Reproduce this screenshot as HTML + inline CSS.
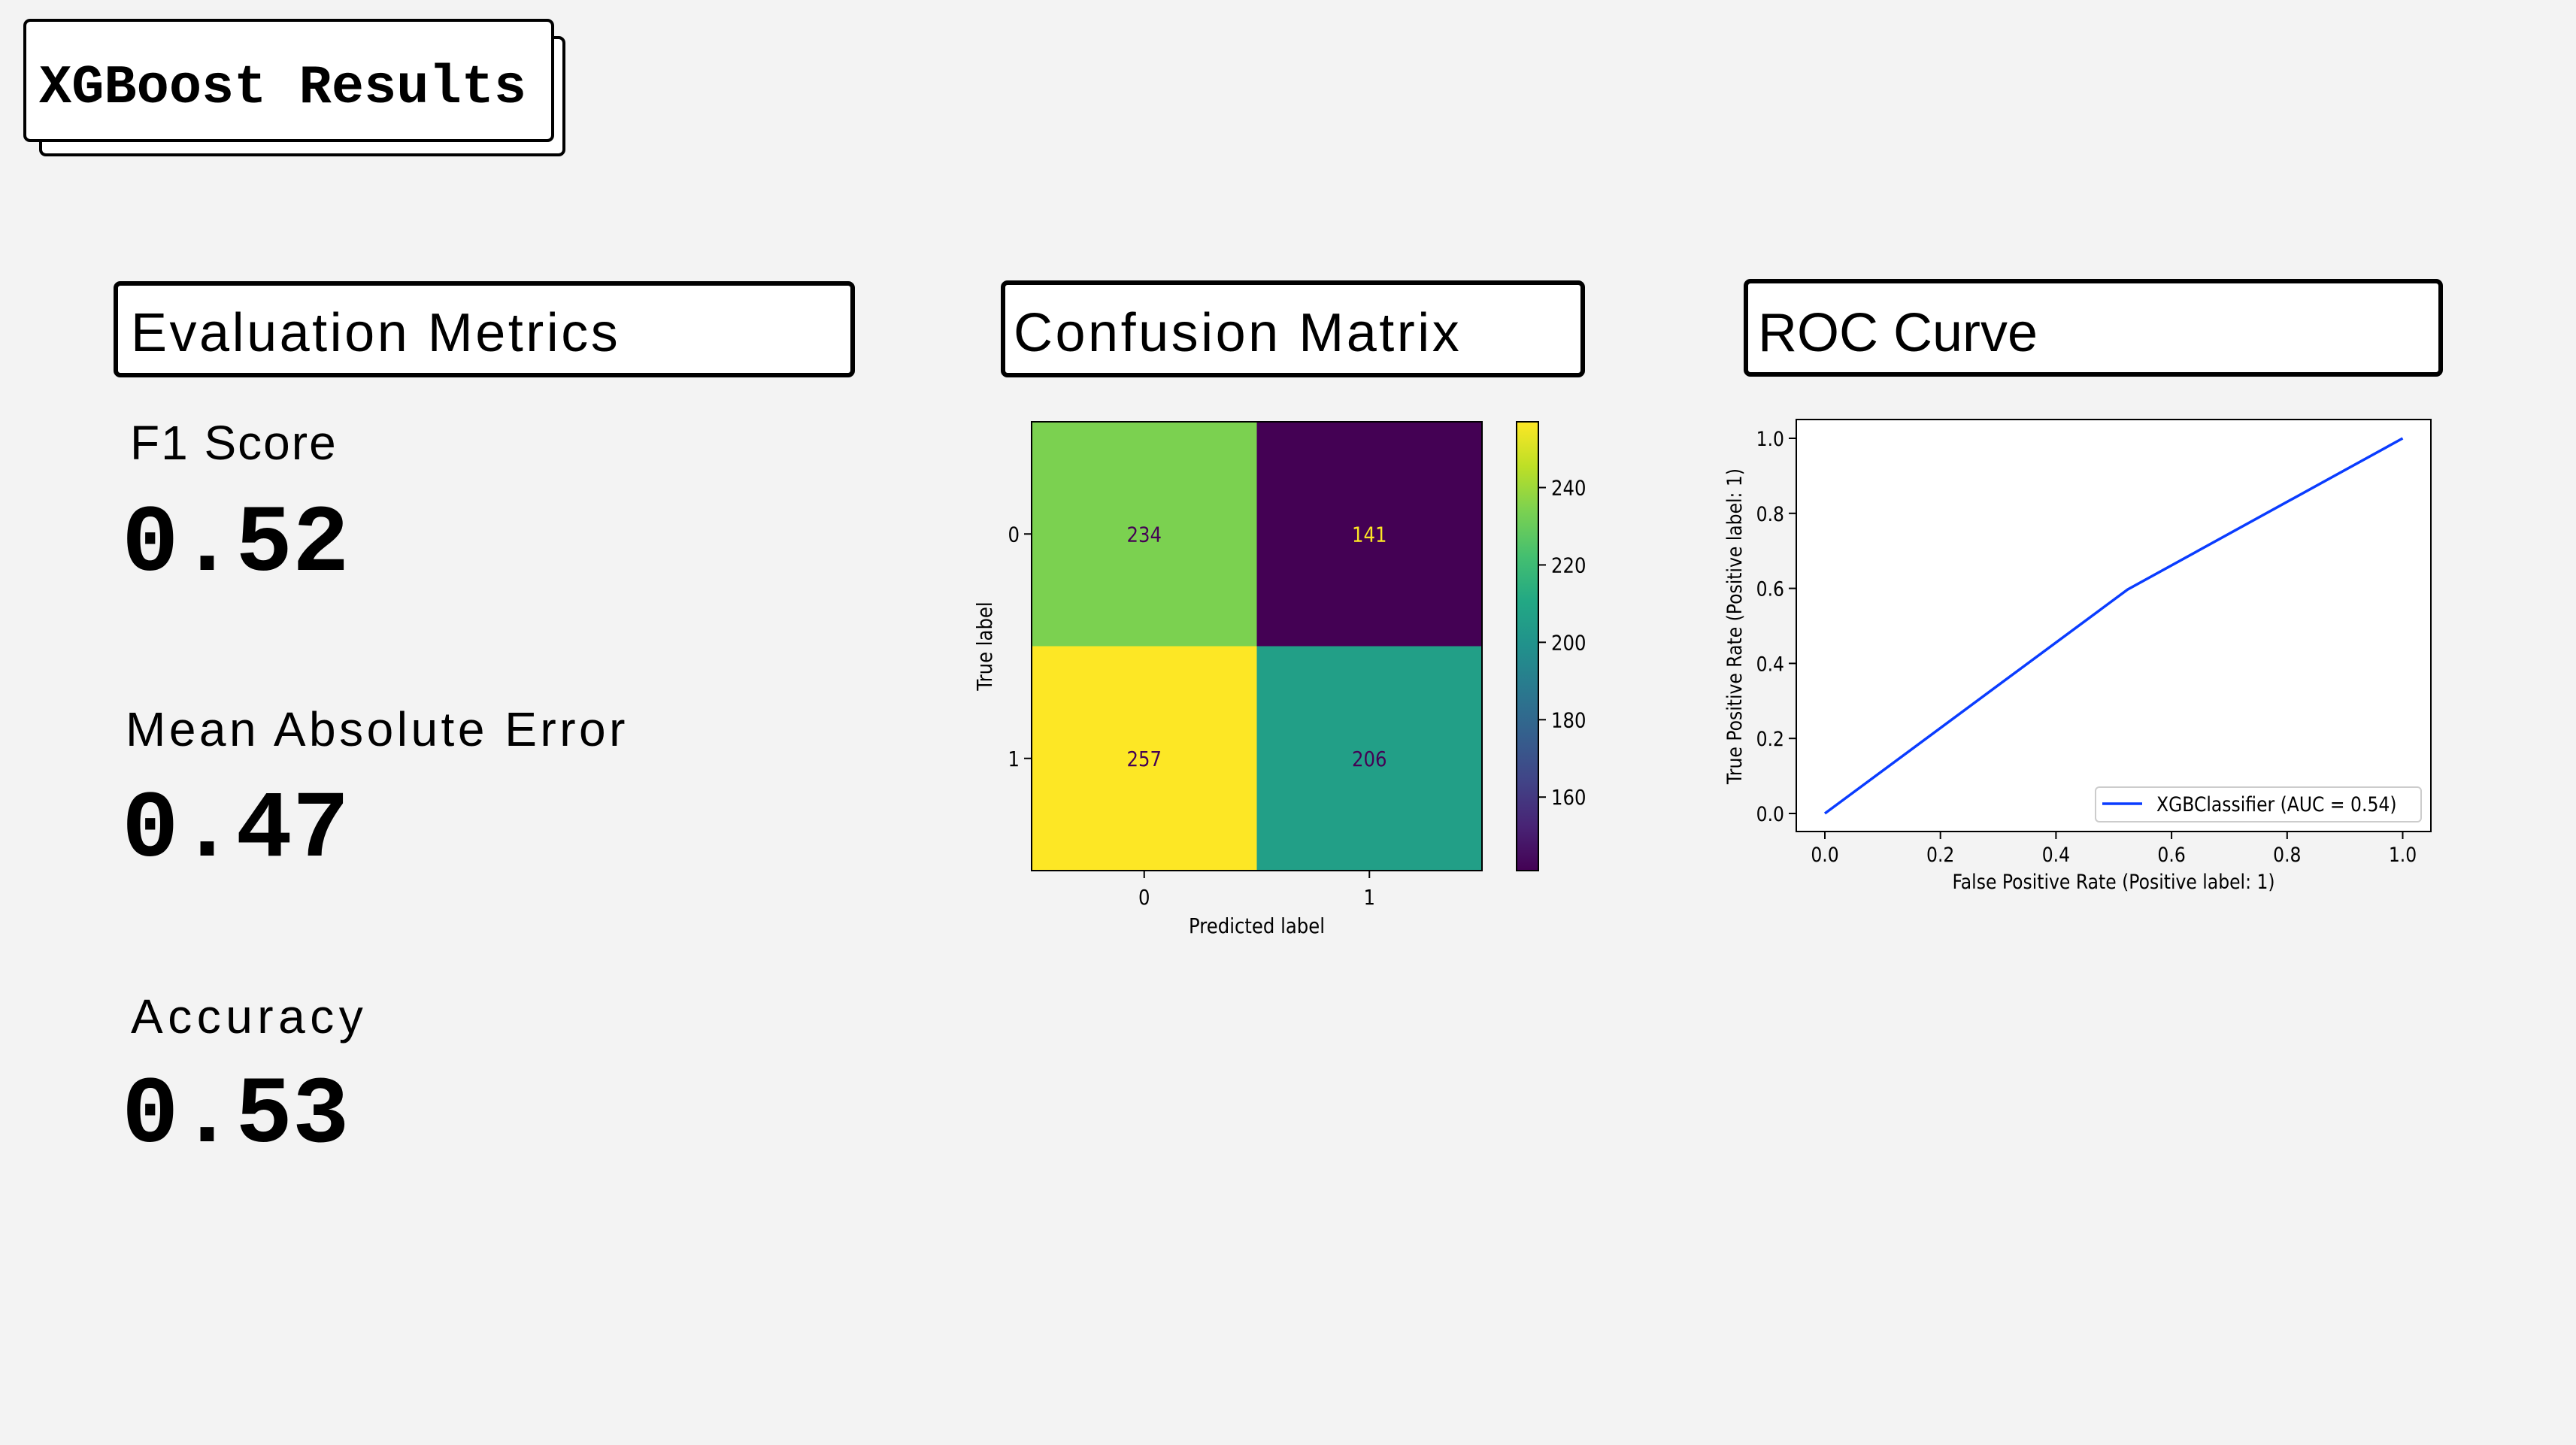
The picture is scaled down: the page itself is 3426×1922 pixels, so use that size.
<!DOCTYPE html>
<html><head><meta charset="utf-8"><style>
html,body{margin:0;padding:0;background:#f3f3f3;}
body{width:3426px;height:1922px;position:relative;overflow:hidden;font-family:"Liberation Sans",sans-serif;}
.abs{position:absolute;}
.card{position:absolute;background:#fff;border:6px solid #000;border-radius:9px;box-sizing:border-box;}
.card span{position:absolute;left:16px;top:14px;font-size:72px;line-height:1;white-space:nowrap;}
.lbl{position:absolute;font-size:64px;line-height:1;white-space:nowrap;}
.val{position:absolute;font-family:"Liberation Mono",monospace;font-weight:bold;font-size:126px;line-height:1;white-space:nowrap;}
svg text{font-family:"DejaVu Sans",sans-serif;}
</style></head><body>
<div class="card" style="left:52px;top:48px;width:700px;height:160px;border-width:4px"></div>
<div class="card" style="left:31px;top:25px;width:706px;height:164px;border-width:4px">
<span style="font-family:'Liberation Mono',monospace;font-weight:bold;left:17px;top:52px;font-size:72px">XGBoost Results</span></div>

<div class="card" style="left:151px;top:374px;width:986px;height:128px"><span style="left:17px;top:27px;letter-spacing:3.5px">Evaluation Metrics</span></div>
<div class="card" style="left:1331px;top:373px;width:777px;height:129px"><span style="left:11px;top:28px;letter-spacing:3.5px">Confusion Matrix</span></div>
<div class="card" style="left:2319px;top:371px;width:930px;height:130px"><span style="left:13px;top:30px">ROC Curve</span></div>

<div class="lbl" style="left:173px;top:557px;letter-spacing:2px">F1 Score</div>
<div class="val" style="left:162px;top:662px">0.52</div>
<div class="lbl" style="left:167px;top:938px;letter-spacing:4.5px">Mean Absolute Error</div>
<div class="val" style="left:162px;top:1042px">0.47</div>
<div class="lbl" style="left:174px;top:1320px;letter-spacing:6.5px">Accuracy</div>
<div class="val" style="left:162px;top:1422px">0.53</div>

<svg class="abs" style="left:0;top:0" width="3426" height="1922">
<defs><linearGradient id="vir" x1="0" y1="1" x2="0" y2="0">
<stop offset="0" stop-color="#440154"/><stop offset="0.1" stop-color="#482475"/><stop offset="0.2" stop-color="#414487"/><stop offset="0.3" stop-color="#355f8d"/><stop offset="0.4" stop-color="#2a788e"/><stop offset="0.5" stop-color="#21918c"/><stop offset="0.6" stop-color="#22a884"/><stop offset="0.7" stop-color="#44bf70"/><stop offset="0.8" stop-color="#7ad151"/><stop offset="0.9" stop-color="#bddf26"/><stop offset="1" stop-color="#fde725"/></linearGradient></defs>
<g id="cm"></g><g id="roc"></g>
</svg>
<script>
const cmClasses=["0","1"];
const cmValues=[[234,141],[257,206]];
const cbTicks=[160,180,200,220,240];
const rocFpr=[0,0.524,1];
const rocTpr=[0,0.597,1];
const rocTicks=[0,0.2,0.4,0.6,0.8,1.0];
const aucLabel="XGBClassifier (AUC = 0.54)";

const NS="http://www.w3.org/2000/svg";
function mk(parent,tag,attrs){const e=document.createElementNS(NS,tag);for(const k in attrs)e.setAttribute(k,attrs[k]);parent.appendChild(e);return e;}
function txt(parent,x,y,s,anchor,size,fill,rot){const e=mk(parent,"text",{transform:`translate(${x},${y}) rotate(${rot||0}) scale(0.87,1)`,"text-anchor":anchor,"font-size":size,fill:fill||"#000"});e.textContent=s;return e;}
function viridis(t){const c=[[68,1,84],[72,36,117],[65,68,135],[53,95,141],[42,120,142],[33,145,140],[34,168,132],[68,191,112],[122,209,81],[189,223,38],[253,231,37]];t=Math.max(0,Math.min(1,t))*10;const i=Math.min(9,Math.floor(t)),f=t-i;const a=c[i],b=c[i+1];return `rgb(${a.map((v,k)=>Math.round(v+(b[k]-v)*f)).join(",")})`;}

// Confusion matrix
const cm=document.getElementById("cm");
const L=1372,T=561,R=1971,B=1158;
const n=cmClasses.length,cw=(R-L)/n,ch=(B-T)/n;
const flat=cmValues.flat(),vmin=Math.min(...flat),vmax=Math.max(...flat);
const norm=v=>(v-vmin)/(vmax-vmin);
const FS=28;
cmValues.forEach((row,i)=>row.forEach((v,j)=>{
  const r=mk(cm,"rect",{x:L+j*cw,y:T+i*ch,width:cw,height:ch,fill:viridis(norm(v))});
  
  
  const t=txt(cm,L+(j+0.5)*cw,T+(i+0.5)*ch+10,String(v),"middle",FS,norm(v)<0.5?"#fde725":"#440154");
  
  
}));
mk(cm,"rect",{x:L,y:T,width:R-L,height:B-T,fill:"none",stroke:"#000","stroke-width":2});
cmClasses.forEach((c,i)=>{
  const x=L+(i+0.5)*cw,y=T+(i+0.5)*ch;
  mk(cm,"line",{x1:x,y1:B,x2:x,y2:B+10,stroke:"#000","stroke-width":2});
  const a=txt(cm,x,B+45,c,"middle",FS);
  mk(cm,"line",{x1:L-10,y1:y,x2:L,y2:y,stroke:"#000","stroke-width":2});
  const b=txt(cm,L-16,y+10,c,"end",FS);
});
const xl=txt(cm,(L+R)/2,1241,"Predicted label","middle",FS);
const yl=txt(cm,1319,(T+B)/2,"True label","middle",FS,"#000",-90);
// colorbar
const CL=2017,CR=2046;
const cbY=v=>B-(v-vmin)/(vmax-vmin)*(B-T);
const cb=mk(cm,"rect",{x:CL,y:T,width:CR-CL,height:B-T,fill:"url(#vir)",stroke:"#000","stroke-width":2});


cbTicks.forEach(v=>{const y=cbY(v);mk(cm,"line",{x1:CR,y1:y,x2:CR+10,y2:y,stroke:"#000","stroke-width":2});
  const t=txt(cm,CR+17,y+10,String(v),"start",FS);});

// ROC
const roc=document.getElementById("roc");
const AL=2389,AT=558,AR=3233,AB=1106;
const xs=v=>2427+v*(3195.5-2427), ys=v=>1082-v*(1082-583);
const RS=27;
mk(roc,"rect",{x:AL,y:AT,width:AR-AL,height:AB-AT,fill:"#fff",stroke:"#000","stroke-width":2});
rocTicks.forEach(v=>{
  mk(roc,"line",{x1:xs(v),y1:AB,x2:xs(v),y2:AB+10,stroke:"#000","stroke-width":2});
  const a=txt(roc,xs(v),1146,v.toFixed(1),"middle",RS);
  mk(roc,"line",{x1:AL-10,y1:ys(v),x2:AL,y2:ys(v),stroke:"#000","stroke-width":2});
  const b=txt(roc,AL-16,ys(v)+10,v.toFixed(1),"end",RS);
});
const line=mk(roc,"polyline",{points:rocFpr.map((f,i)=>xs(f)+","+ys(rocTpr[i])).join(" "),fill:"none",stroke:"#0a3cff","stroke-width":3.5});


const lg=mk(roc,"rect",{x:2787,y:1047,width:433,height:46,rx:5,fill:"#fff",stroke:"#ccc","stroke-width":2});


mk(roc,"line",{x1:2796,y1:1069,x2:2849,y2:1069,stroke:"#0a3cff","stroke-width":3.5});
const lt=txt(roc,2868,1079,aucLabel,"start",RS);
const rx=txt(roc,(AL+AR)/2,1182,"False Positive Rate (Positive label: 1)","middle",RS);
const ry=txt(roc,2316,833,"True Positive Rate (Positive label: 1)","middle",RS,"#000",-90);
</script>
</body></html>
